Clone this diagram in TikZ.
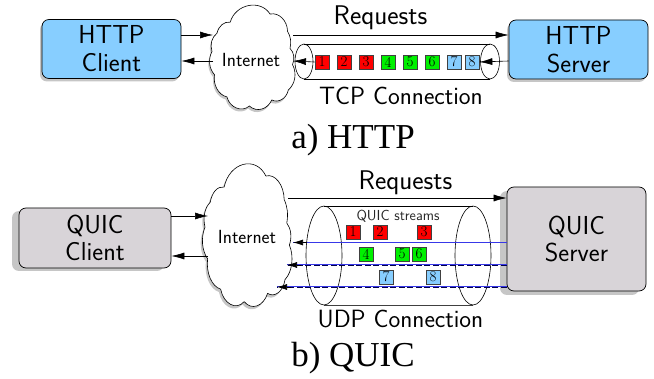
\documentclass[tikz,border=0pt]{standalone}
\usepackage{fontspec}
\newfontfamily\capfont{Liberation Serif}
\usetikzlibrary{arrows.meta,shapes.geometric}
\definecolor{hblue}{HTML}{87CEFF}
\definecolor{qgrey}{HTML}{D8D4D8}
\definecolor{dropgrey}{HTML}{C6C6C6}
\definecolor{sqred}{HTML}{FF0000}
\definecolor{sqgreen}{HTML}{00F000}
\definecolor{linkblue}{HTML}{3838E8}
\newcommand{\cloudshape}{(0.22,0.16) to[bend left=62] (0.70,0.08) to[bend left=50] (0.91,0.25) to[bend left=25] (0.94,0.42) to[bend left=40] (0.97,0.58) to[bend left=45] (0.92,0.83) to[bend left=50] (0.72,0.93) to[bend left=50] (0.45,0.99) to[bend left=55] (0.18,0.90) to[bend left=45] (0.03,0.68) to[bend left=40] (0.00,0.45) to[bend left=40] (0.06,0.27) to[bend left=40] cycle}
\tikzset{
  x=1pt,y=-1pt,
  every node/.style={font=\sffamily},
  boxbase/.style={rectangle,rounded corners=7pt,draw=black,line width=0.7pt,inner sep=0pt,align=center,font=\sffamily\fontsize{26}{30}\selectfont},
  dropbox/.style={rectangle,rounded corners=7pt,fill=dropgrey,draw=none,inner sep=0pt},
  lab/.style={font=\sffamily\fontsize{25}{28}\selectfont,inner sep=0pt},
  reqlab/.style={font=\sffamily\fontsize{27}{30}\selectfont,inner sep=0pt},
  captext/.style={font=\capfont\fontsize{35}{40}\selectfont,inner sep=0pt},
  net/.style={font=\sffamily\fontsize{19}{22}\selectfont,inner sep=0pt,outer sep=0pt},
  sq/.style={rectangle,draw=black!75,line width=0.7pt,minimum size=14pt,inner sep=0pt,font=\rmfamily\fontsize{15}{15}\selectfont,text=black},
  rsq/.style={sq,fill=sqred},
  gsq/.style={sq,fill=sqgreen},
  bsq/.style={sq,fill=hblue},
  conn/.style={-{Latex[length=13pt,width=7pt]},line width=0.6pt,black},
  reqline/.style={-{Latex[length=13pt,width=7pt]},line width=0.6pt,black},
  tube/.style={ellipse,draw=black,line width=0.6pt,inner sep=0pt},
  tubeline/.style={line width=0.7pt,black},
  streamdash/.style={line width=0.6pt,black!70!blue,dash pattern=on 6pt off 2.5pt},
  streamline/.style={line width=1pt,linkblue},
  streamarrow/.style={-{Latex[length=10pt,width=6pt]},line width=0.6pt,black},
}
\begin{document}
\begin{tikzpicture}
\useasboundingbox (0,0) rectangle (654,379);
% ---------- a) HTTP ----------
\node[dropbox,minimum width=139pt,minimum height=59pt] (hcs) at (109.5,52) {};
\node[dropbox,minimum width=139pt,minimum height=59pt] (hss) at (576.5,52.5) {};
\node[boxbase,fill=hblue,minimum width=139pt,minimum height=59pt] (hc) at (111.5,49) {HTTP\\[-2pt]Client};
\node[boxbase,fill=hblue,minimum width=139pt,minimum height=59pt] (hs) at (578.5,49.5) {HTTP\\[-2pt]Server};
\begin{scope}[shift={(212,6)},xscale=83,yscale=101]
  \fill[dropgrey,shift={(-0.015,0.025)}] \cloudshape;
  \draw[fill=white,line width=0.6pt,line join=round] \cloudshape;
\end{scope}
\node[net,minimum width=80pt,minimum height=98pt] (nc1) at (253,57) {};
\node[net] (in1) at (251,60) {Internet};
\draw[conn] (hc.east |- 0,35) -- (nc1.west |- 0,35);
\draw[conn] (nc1.west |- 0,61) -- (hc.east |- 0,61);
\fill[white] (304,44) rectangle (490,79);
\draw[tubeline] (304,44) -- (490,44) (304,79) -- (490,79);
\node[tube,minimum width=18pt,minimum height=35pt] (tl) at (304,61.5) {};
\node[tube,minimum width=19pt,minimum height=35pt] (tr) at (490,61.5) {};
\node[rsq] (a1) at (322,62) {1};
\node[rsq] (a2) at (344,62) {2};
\node[rsq] (a3) at (366,62) {3};
\node[gsq] (a4) at (388,62) {4};
\node[gsq] (a5) at (410,62) {5};
\node[gsq] (a6) at (432,62) {6};
\node[bsq] (a7) at (454,62) {7};
\node[bsq] (a8) at (472,62) {8};
\draw[conn] (hs.west |- 0,61) -- (a8.east);
\draw[conn] (a1.west) -- (nc1.east |- 0,61);
\draw[reqline] (nc1.east |- 0,35) -- (hs.west |- 0,35);
\node[reqlab] (r1) at (380.5,18) {Requests};
\node[lab] (t1) at (401,95.5) {TCP Connection};
\node[captext] (c1) at (353,140) {a) HTTP};
% ---------- b) QUIC ----------
\node[dropbox,minimum width=152pt,minimum height=60pt] (qcs) at (88,241) {};
\node[dropbox,minimum width=139pt,minimum height=104pt] (qss) at (569.5,243) {};
\node[boxbase,fill=qgrey,minimum width=152pt,minimum height=60pt] (qc) at (95,238) {QUIC\\[-3pt]Client};
\node[boxbase,fill=qgrey,minimum width=139pt,minimum height=104pt] (qs) at (576.5,239) {QUIC\\[-3pt]Server};
\begin{scope}[shift={(205,165)},xscale=87,yscale=138]
  \fill[dropgrey,shift={(-0.02,0.02)}] \cloudshape;
  \draw[fill=white,line width=0.6pt,line join=round] \cloudshape;
\end{scope}
\node[net,minimum width=80pt,minimum height=130pt] (nc2) at (248,236) {};
\node[net] (in2) at (247,237) {Internet};
\draw[conn] (qc.east |- 0,216) -- (nc2.west |- 0,216);
\draw[conn] (nc2.west |- 0,256) -- (qc.east |- 0,256);
\fill[white] (324,206) rectangle (473,305);
\draw[tubeline] (324,206) -- (473,206);
\draw[tubeline,black!75] (324,305) -- (473,305);
\node[tube,minimum width=36pt,minimum height=99pt] (ul) at (324,255.5) {};
\node[tube,minimum width=36pt,minimum height=99pt] (ur) at (473,255.5) {};
\node[font=\sffamily\fontsize{14.5}{16}\selectfont,inner sep=0pt,text=black!85] (qs1) at (398,216.5) {QUIC streams};
\node[rsq] (b1) at (353,232) {1};
\node[rsq] (b2) at (380,232) {2};
\node[rsq] (b3) at (424,232) {3};
\node[gsq] (b4) at (366,254) {4};
\node[gsq] (b5) at (402,254) {5};
\node[gsq] (b6) at (419,254) {6};
\node[bsq] (b7) at (386,277) {7};
\node[bsq] (b8) at (433,277) {8};
\coordinate (e1) at (293,242.5);
\coordinate (e2) at (287,265);
\coordinate (e3) at (277,287);
\draw[streamline] (qs.west |- e1) -- (e1);
\draw[streamline] (qs.west |- e2) -- (e2);
\draw[streamline] (qs.west |- e3) -- (e3);
\draw[streamdash] (qs.west |- e2) -- (e2);
\draw[streamdash] (qs.west |- e3) -- (e3);
\draw[streamarrow] ([xshift=14pt]e1) -- (e1);
\draw[streamarrow] ([xshift=14pt]e2) -- (e2);
\draw[streamarrow] ([xshift=14pt]e3) -- (e3);
\draw[reqline] (nc2.east |- 0,198) -- (qs.west |- 0,198);
\node[reqlab] (r2) at (405.5,182.5) {Requests};
\node[lab] (t2) at (400.5,319.5) {UDP Connection};
\node[captext] (c2) at (353,358) {b) QUIC};
\end{tikzpicture}
\end{document}
